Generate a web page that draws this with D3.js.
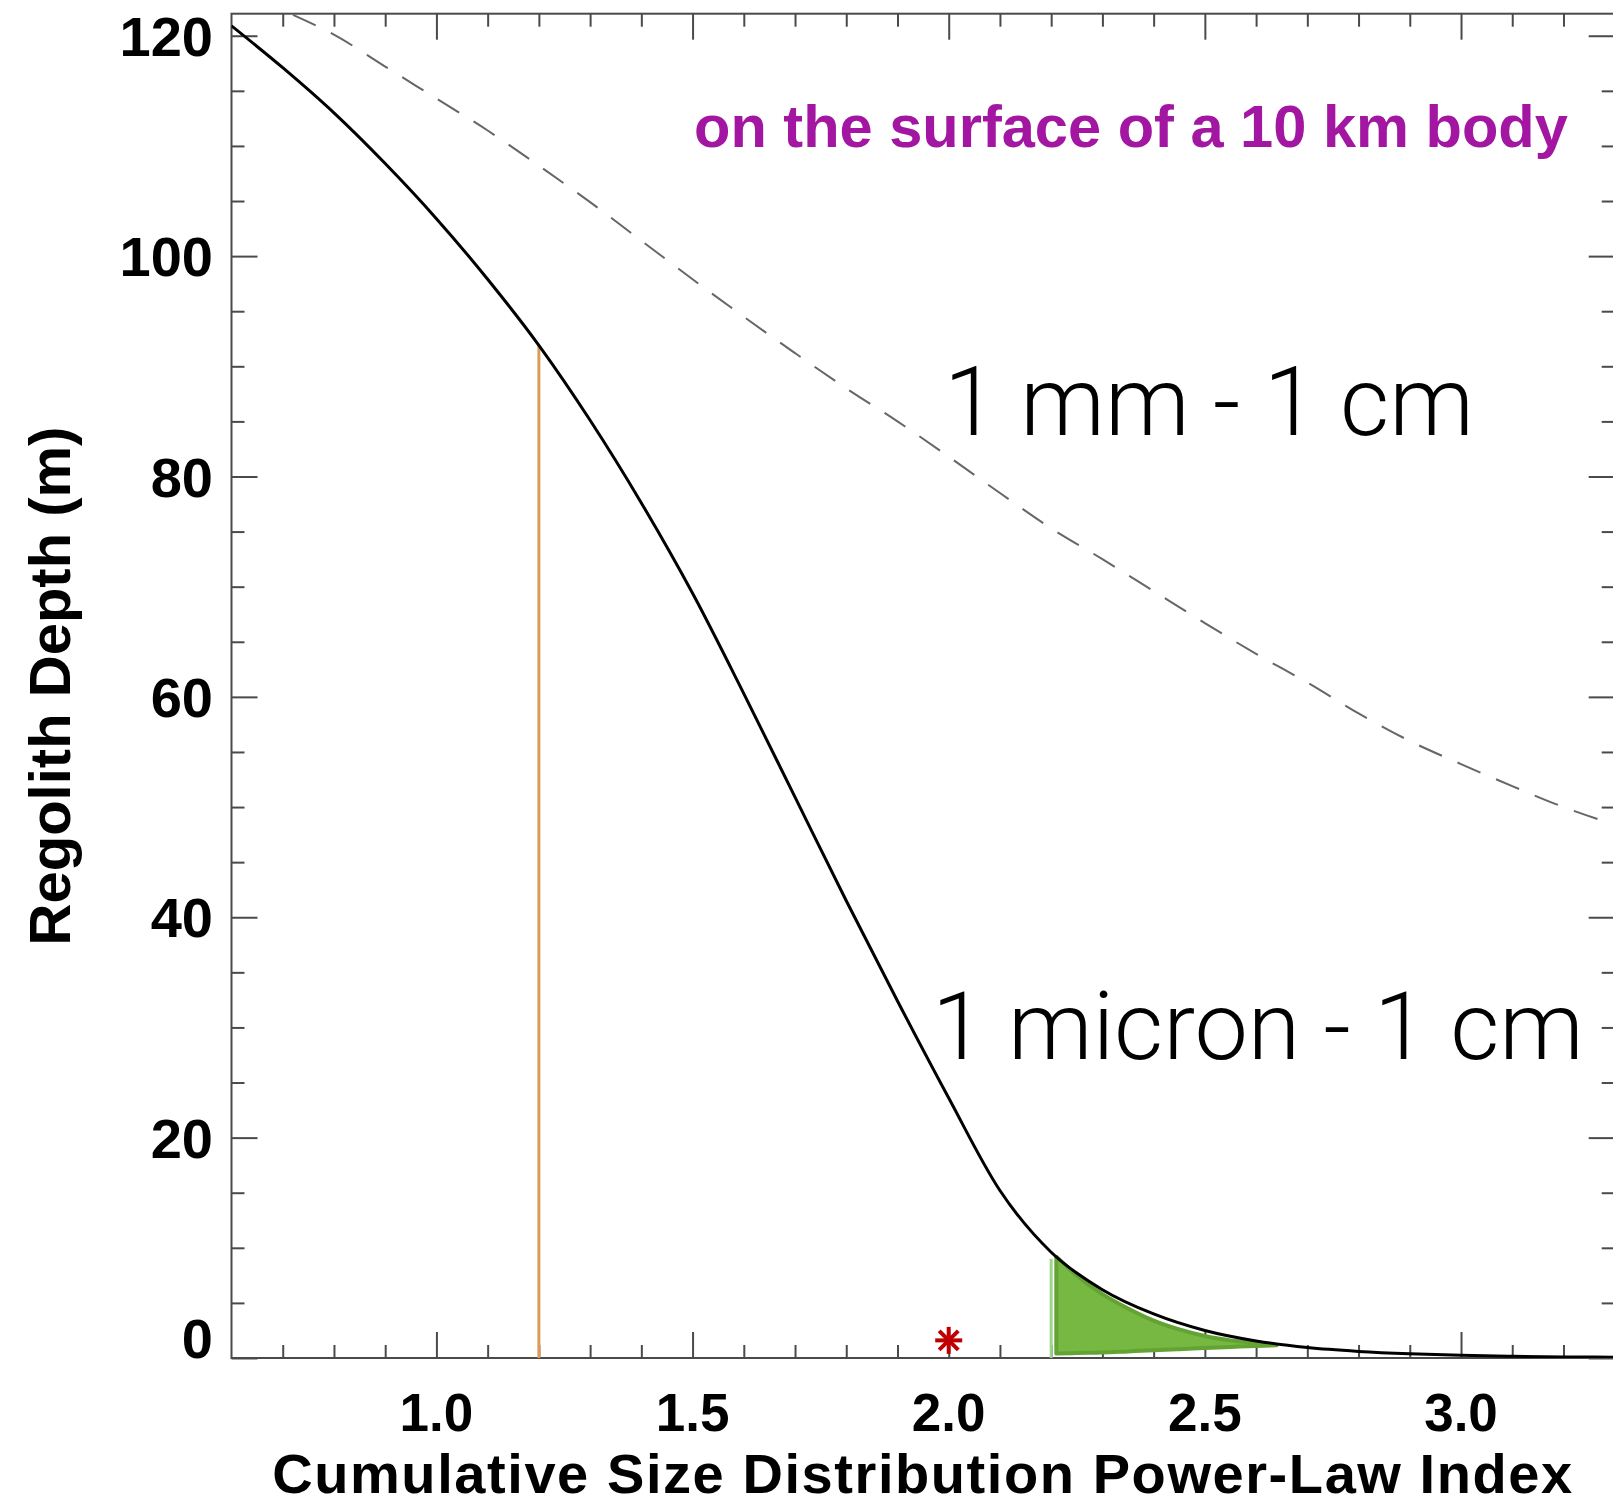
<!DOCTYPE html>
<html>
<head>
<meta charset="utf-8">
<script src="https://cdn.jsdelivr.net/npm/d3@7"></script>
<style>
  html, body { margin: 0; padding: 0; background: #ffffff; overflow: hidden; }
  svg { display: block; }
</style>
</head>
<body>
<svg id="chart"></svg>
<script>
// Regolith depth vs. cumulative size-distribution power-law index

// 1 micron - 1 cm size range (solid curve)
const fineIndex = [0.6, 0.7, 0.8, 0.9, 1.0, 1.1, 1.2, 1.3, 1.4, 1.5, 1.6, 1.7, 1.8, 1.9, 2.0, 2.1, 2.2, 2.3, 2.4, 2.5, 2.6, 2.7, 2.8, 2.9, 3.0, 3.1, 3.2, 3.3];
const fineDepth = [120.9, 117.1, 113.0, 108.4, 103.4, 97.9, 91.9, 85.1, 77.6, 69.4, 60.3, 50.9, 41.5, 32.4, 23.6, 15.2, 9.6, 6.2, 4.0, 2.5, 1.55, 0.95, 0.6, 0.38, 0.24, 0.15, 0.1, 0.07];

// 1 mm - 1 cm size range (dashed curve)
const coarseIndex = [0.72, 0.8, 0.9, 1.0, 1.1, 1.2, 1.3, 1.4, 1.5, 1.6, 1.7, 1.8, 1.9, 2.0, 2.1, 2.2, 2.3, 2.4, 2.5, 2.6, 2.7, 2.8, 2.9, 3.0, 3.1, 3.2, 3.3];
const coarseDepth = [121.9, 120.1, 117.2, 114.3, 111.4, 108.2, 104.9, 101.4, 97.9, 94.5, 91.2, 88.0, 85.0, 81.8, 78.5, 75.3, 72.5, 69.6, 66.7, 63.9, 61.3, 58.5, 56.0, 53.9, 51.9, 50.0, 48.4];

// Highlighted range under the curve (green shading)
const shadeIndex = [2.21, 2.25, 2.3, 2.35, 2.4, 2.45, 2.5, 2.55, 2.6, 2.64];
const shadeTop = [9.2, 7.5, 5.8, 4.5, 3.4, 2.6, 2.0, 1.6, 1.35, 1.15];
const shadeBottom = [0.4, 0.45, 0.5, 0.6, 0.7, 0.8, 0.9, 1.0, 1.1, 1.15];
const shadeEdgeIndex = 2.2;
const shadeEdgeDepth = 9.0;

// Vertical marker line and point marker
const lineIndex = 1.2;
const lineDepth = 91.9;
const starIndex = 2.0;
const starDepth = 1.6;

// Axis ticks
const xMajorTicks = [1.0, 1.5, 2.0, 2.5, 3.0];
const xTickLabels = ["1.0", "1.5", "2.0", "2.5", "3.0"];
const xMinorTicks = [0.7, 0.8, 0.9, 1.1, 1.2, 1.3, 1.4, 1.6, 1.7, 1.8, 1.9, 2.1, 2.2, 2.3, 2.4, 2.6, 2.7, 2.8, 2.9, 3.1, 3.2];
const yMajorTicks = [0, 20, 40, 60, 80, 100, 120];
const yTickLabels = ["0", "20", "40", "60", "80", "100", "120"];
const yMinorTicks = [5, 10, 15, 25, 30, 35, 45, 50, 55, 65, 70, 75, 85, 90, 95, 105, 110, 115];

const W = 1613, H = 1506;
const plot = { left: 231.5, right: 1614.7, top: 13.7, bottom: 1358 };

const svg = d3.select("#chart").attr("width", W).attr("height", H);

const x = d3.scaleLinear().domain([0.6, 3.3]).range([plot.left, plot.right]);
const y = d3.scaleLinear().domain([0, 122]).range([plot.bottom, plot.top]);

svg.append("defs").append("clipPath").attr("id", "plotClip")
  .append("rect")
  .attr("x", plot.left).attr("y", plot.top)
  .attr("width", plot.right - plot.left).attr("height", plot.bottom - plot.top);

const axisColor = "#4a4a4a";
const boldFont = "'Liberation Sans', Arial, Helvetica, sans-serif";

// --- axes with inward ticks on all four sides ---
function styleAxis(g) {
  g.select(".domain").remove();
  g.selectAll(".tick line").attr("stroke", axisColor).attr("stroke-width", 2);
  g.selectAll(".tick text").remove();
}
const MAJ = 26, MIN = 13;

svg.append("g").attr("transform", `translate(0,${plot.bottom})`)
  .call(d3.axisBottom(x).tickValues(xMajorTicks).tickSize(-MAJ)).call(styleAxis);
svg.append("g").attr("transform", `translate(0,${plot.bottom})`)
  .call(d3.axisBottom(x).tickValues(xMinorTicks).tickSize(-MIN)).call(styleAxis);
svg.append("g").attr("transform", `translate(0,${plot.top})`)
  .call(d3.axisTop(x).tickValues(xMajorTicks).tickSize(-MAJ)).call(styleAxis);
svg.append("g").attr("transform", `translate(0,${plot.top})`)
  .call(d3.axisTop(x).tickValues(xMinorTicks).tickSize(-MIN)).call(styleAxis);
svg.append("g").attr("transform", `translate(${plot.left},0)`)
  .call(d3.axisLeft(y).tickValues(yMajorTicks).tickSize(-MAJ)).call(styleAxis);
svg.append("g").attr("transform", `translate(${plot.left},0)`)
  .call(d3.axisLeft(y).tickValues(yMinorTicks).tickSize(-MIN)).call(styleAxis);
svg.append("g").attr("transform", `translate(${plot.right},0)`)
  .call(d3.axisRight(y).tickValues(yMajorTicks).tickSize(-MAJ)).call(styleAxis);
svg.append("g").attr("transform", `translate(${plot.right},0)`)
  .call(d3.axisRight(y).tickValues(yMinorTicks).tickSize(-MIN)).call(styleAxis);

// frame
svg.append("rect")
  .attr("x", plot.left).attr("y", plot.top)
  .attr("width", plot.right - plot.left).attr("height", plot.bottom - plot.top)
  .attr("fill", "none").attr("stroke", axisColor).attr("stroke-width", 2);

// --- tick labels ---
svg.append("g").selectAll("text").data(xMajorTicks).join("text")
  .attr("x", d => x(d)).attr("y", 1431)
  .attr("text-anchor", "middle")
  .attr("font-family", boldFont).attr("font-weight", "bold").attr("font-size", 53)
  .attr("fill", "#000")
  .text((d, i) => xTickLabels[i]);

svg.append("g").selectAll("text").data(yMajorTicks).join("text")
  .attr("x", 213).attr("y", d => y(d) + (d === 0 ? -20 : 0))
  .attr("dy", "0.36em")
  .attr("text-anchor", "end")
  .attr("font-family", boldFont).attr("font-weight", "bold").attr("font-size", 56)
  .attr("fill", "#000")
  .text((d, i) => yTickLabels[i]);

// fit a text element to a target width by scaling its font size
function fitWidth(sel, target) {
  const node = sel.node();
  const fs = parseFloat(sel.attr("font-size"));
  const w = node.getComputedTextLength();
  if (w > 0) sel.attr("font-size", fs * target / w);
  return sel;
}
// widen a text element to a target width through letter spacing
function spreadWidth(sel, target) {
  const node = sel.node();
  const w = node.getComputedTextLength();
  const n = sel.text().length;
  if (w > 0 && n > 1) sel.attr("letter-spacing", (target - w) / (n - 1));
  return sel;
}

// axis titles
const xTitle = svg.append("text")
  .attr("x", 923).attr("y", 1493)
  .attr("text-anchor", "middle")
  .attr("font-family", boldFont).attr("font-weight", "bold").attr("font-size", 56)
  .attr("fill", "#000")
  .text("Cumulative Size Distribution Power-Law Index");
spreadWidth(xTitle, 1300);

const yTitle = svg.append("text")
  .attr("transform", "translate(70,686) rotate(-90)")
  .attr("text-anchor", "middle")
  .attr("font-family", boldFont).attr("font-weight", "bold").attr("font-size", 58)
  .attr("fill", "#000")
  .text("Regolith Depth (m)");
fitWidth(yTitle, 519);

// --- data layer ---
const data = svg.append("g").attr("clip-path", "url(#plotClip)");

// dashed curve: 1 mm - 1 cm
data.append("path")
  .datum(coarseIndex.map((v, i) => [v, coarseDepth[i]]))
  .attr("fill", "none")
  .attr("stroke", "#666")
  .attr("stroke-width", 2)
  .attr("stroke-dasharray", "25,17")
  .attr("d", d3.line().x(d => x(d[0])).y(d => y(d[1])).curve(d3.curveMonotoneX));

// vertical orange marker
data.append("line")
  .attr("x1", x(lineIndex)).attr("x2", x(lineIndex))
  .attr("y1", y(0)).attr("y2", y(lineDepth))
  .attr("stroke", "#e09a58").attr("stroke-width", 3);

// green shaded range
data.append("line")
  .attr("x1", x(shadeEdgeIndex)).attr("x2", x(shadeEdgeIndex))
  .attr("y1", y(0)).attr("y2", y(shadeEdgeDepth))
  .attr("stroke", "#9fd48f").attr("stroke-width", 3);

data.append("path")
  .datum(shadeIndex.map((v, i) => [v, shadeBottom[i], shadeTop[i]]))
  .attr("fill", "#77b843")
  .attr("stroke", "#63a334")
  .attr("stroke-width", 4)
  .attr("stroke-linejoin", "round")
  .attr("d", d3.area().x(d => x(d[0])).y0(d => y(d[1])).y1(d => y(d[2])).curve(d3.curveMonotoneX));

// solid curve: 1 micron - 1 cm
data.append("path")
  .datum(fineIndex.map((v, i) => [v, fineDepth[i]]))
  .attr("fill", "none")
  .attr("stroke", "#000")
  .attr("stroke-width", 3)
  .attr("d", d3.line().x(d => x(d[0])).y(d => y(d[1])).curve(d3.curveMonotoneX));

// asterisk marker
const sx = x(starIndex), sy = y(starDepth), r = 13.5;
const star = data.append("g").attr("stroke", "#c00000").attr("stroke-width", 4).attr("stroke-linecap", "butt");
[0, 45, 90, 135].forEach(a => {
  const t = a * Math.PI / 180;
  star.append("line")
    .attr("x1", sx - r * Math.cos(t)).attr("y1", sy - r * Math.sin(t))
    .attr("x2", sx + r * Math.cos(t)).attr("y2", sy + r * Math.sin(t));
});

// --- annotations ---
const note = svg.append("text")
  .attr("x", 694).attr("y", 147)
  .attr("font-family", boldFont).attr("font-weight", "bold").attr("font-size", 58)
  .attr("fill", "#a216a2")
  .text("on the surface of a 10 km body");
fitWidth(note, 874);

const lightFont = "Roboto, Lato, 'Open Sans', Inter, 'Noto Sans', sans-serif";
const coarseLabel = svg.append("text")
  .attr("x", 944).attr("y", 435)
  .attr("font-family", lightFont).attr("font-weight", 300).attr("font-size", 95)
  .attr("fill", "#000")
  .text("1 mm - 1 cm");
fitWidth(coarseLabel, 530);

const fineLabel = svg.append("text")
  .attr("x", 932).attr("y", 1059)
  .attr("font-family", lightFont).attr("font-weight", 300).attr("font-size", 95)
  .attr("fill", "#000")
  .text("1 micron - 1 cm");
fitWidth(fineLabel, 652);
</script>
</body>
</html>
